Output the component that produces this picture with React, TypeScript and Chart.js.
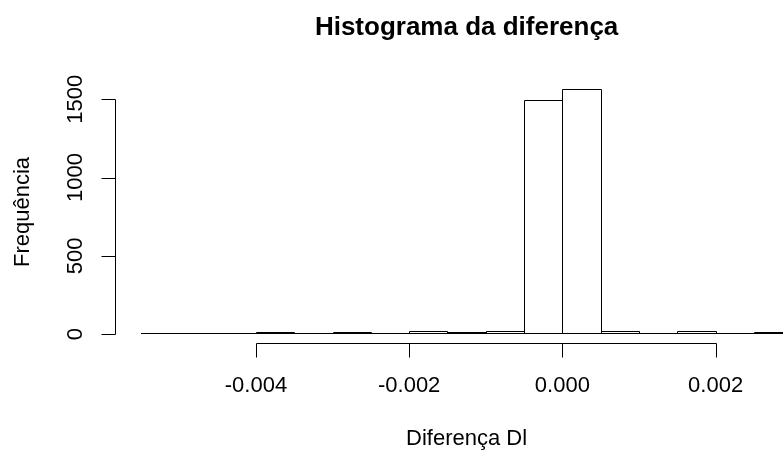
import React, { useEffect, useRef } from "react";
import { Chart, registerables } from "chart.js";

Chart.register(...registerables);

const binStarts = [-0.0055, -0.005, -0.0045, -0.004, -0.0035, -0.003, -0.0025, -0.002, -0.0015, -0.001, -0.0005, 0, 0.0005, 0.001, 0.0015, 0.002, 0.0025];
const binWidth = 0.0005;
const counts = [1, 0, 0, 4, 0, 4, 0, 12, 4, 12, 1490, 1560, 12, 0, 12, 0, 4];
const xTicks = [-0.004, -0.002, 0, 0.002];
const xTickLabels = ["-0.004", "-0.002", "0.000", "0.002"];
const yTicks = [0, 500, 1000, 1500];
const yTickLabels = ["0", "500", "1000", "1500"];
const titleText = "Histograma da diferença";
const xLabel = "Diferença Dl";
const yLabel = "Frequência";

const FONT = '"Liberation Sans", Arial, sans-serif';

const barOutlinePlugin = {
  id: "rBarOutline",
  afterDatasetsDraw(chart: any) {
    const ctx = chart.ctx as CanvasRenderingContext2D;
    const meta = chart.getDatasetMeta(0);
    ctx.save();
    ctx.strokeStyle = "#000";
    ctx.lineWidth = 1;
    meta.data.forEach((el: any) => {
      const left = Math.round(el.x - el.width / 2) + 0.5;
      const right = Math.round(el.x + el.width / 2) + 0.5;
      const baseR = Math.round(el.base);
      let topR = Math.round(el.y);
      if (el.base - el.y >= 0.4) topR = Math.min(topR, baseR - 1);
      const top = topR - 0.5;
      const bottom = baseR - 0.5;
      ctx.beginPath();
      ctx.rect(left, top, right - left, bottom - top);
      ctx.stroke();
    });
    ctx.restore();
  },
};

const axesPlugin = {
  id: "rAxes",
  afterDraw(chart: any) {
    const ctx = chart.ctx as CanvasRenderingContext2D;
    const xs = chart.scales.x;
    const ys = chart.scales.y;
    const area = chart.chartArea;
    ctx.save();
    ctx.strokeStyle = "#000";
    ctx.fillStyle = "#000";
    ctx.lineWidth = 1;

    // x axis
    const axY = Math.round(area.bottom) - 0.5;
    const x0 = xs.getPixelForValue(xTicks[0]);
    const x1 = xs.getPixelForValue(xTicks[xTicks.length - 1]);
    ctx.beginPath();
    ctx.moveTo(Math.round(x0) + 0.5, axY);
    ctx.lineTo(Math.round(x1) + 0.5, axY);
    xTicks.forEach((t) => {
      const px = Math.round(xs.getPixelForValue(t)) + 0.5;
      ctx.moveTo(px, axY);
      ctx.lineTo(px, axY + 14);
    });
    ctx.stroke();
    ctx.font = `22px ${FONT}`;
    ctx.textAlign = "center";
    ctx.textBaseline = "alphabetic";
    xTicks.forEach((t, i) => {
      ctx.fillText(xTickLabels[i], xs.getPixelForValue(t), 392);
    });

    // y axis
    const axX = Math.round(area.left) + 0.5;
    const y0 = ys.getPixelForValue(yTicks[0]);
    const y1 = ys.getPixelForValue(yTicks[yTicks.length - 1]);
    ctx.beginPath();
    ctx.moveTo(axX, Math.round(y0) + 0.5);
    ctx.lineTo(axX, Math.round(y1) + 0.5);
    yTicks.forEach((t) => {
      const py = Math.round(ys.getPixelForValue(t)) + 0.5;
      ctx.moveTo(axX, py);
      ctx.lineTo(axX - 14, py);
    });
    ctx.stroke();
    yTicks.forEach((t, i) => {
      ctx.save();
      ctx.translate(82, ys.getPixelForValue(t));
      ctx.rotate(-Math.PI / 2);
      ctx.fillText(yTickLabels[i], 0, 0);
      ctx.restore();
    });

    // zero-line across bins
    const zy = Math.round(ys.getPixelForValue(0)) - 0.5;
    ctx.beginPath();
    ctx.moveTo(xs.getPixelForValue(binStarts[0]), zy);
    ctx.lineTo(xs.getPixelForValue(binStarts[binStarts.length - 1] + binWidth), zy);
    ctx.stroke();

    // titles
    const cx = xs.getPixelForValue(-0.00125);
    ctx.font = `bold 26px ${FONT}`;
    ctx.fillText(titleText, cx, 35);
    ctx.font = `22px ${FONT}`;
    ctx.fillText(xLabel, cx, 445);
    ctx.save();
    ctx.translate(29, (area.top + area.bottom) / 2);
    ctx.rotate(-Math.PI / 2);
    ctx.fillText(yLabel, 0, 0);
    ctx.restore();
    ctx.restore();
  },
};

export default function App() {
  const ref = useRef<HTMLCanvasElement | null>(null);
  useEffect(() => {
    if (!ref.current) return;
    const chart = new Chart(ref.current, {
      type: "bar",
      data: {
        datasets: [
          {
            data: binStarts.map((s, i) => ({ x: s + binWidth / 2, y: counts[i] })),
            backgroundColor: "#ffffff",
            borderColor: "#000000",
            borderWidth: 0,
            borderSkipped: false,
            barPercentage: 1,
            categoryPercentage: 1,
            grouped: false,
          } as any,
        ],
      },
      options: {
        animation: false,
        responsive: false,
        maintainAspectRatio: false,
        layout: { padding: { left: 115, top: 80, right: 0, bottom: 108 } },
        plugins: { legend: { display: false }, tooltip: { enabled: false }, title: { display: false } },
        scales: {
          x: { type: "linear", min: -0.00584, max: 0.00288, display: false, offset: false },
          y: { type: "linear", min: -62.4, max: 1622.4, display: false },
        },
      },
      plugins: [barOutlinePlugin, axesPlugin],
    });
    return () => chart.destroy();
  }, []);
  return (
    <div style={{ position: "absolute", left: 0, top: 0, width: 783, height: 452, background: "#fff" }}>
      <canvas ref={ref} width={783} height={452} style={{ width: 783, height: 452 }} />
    </div>
  );
}
